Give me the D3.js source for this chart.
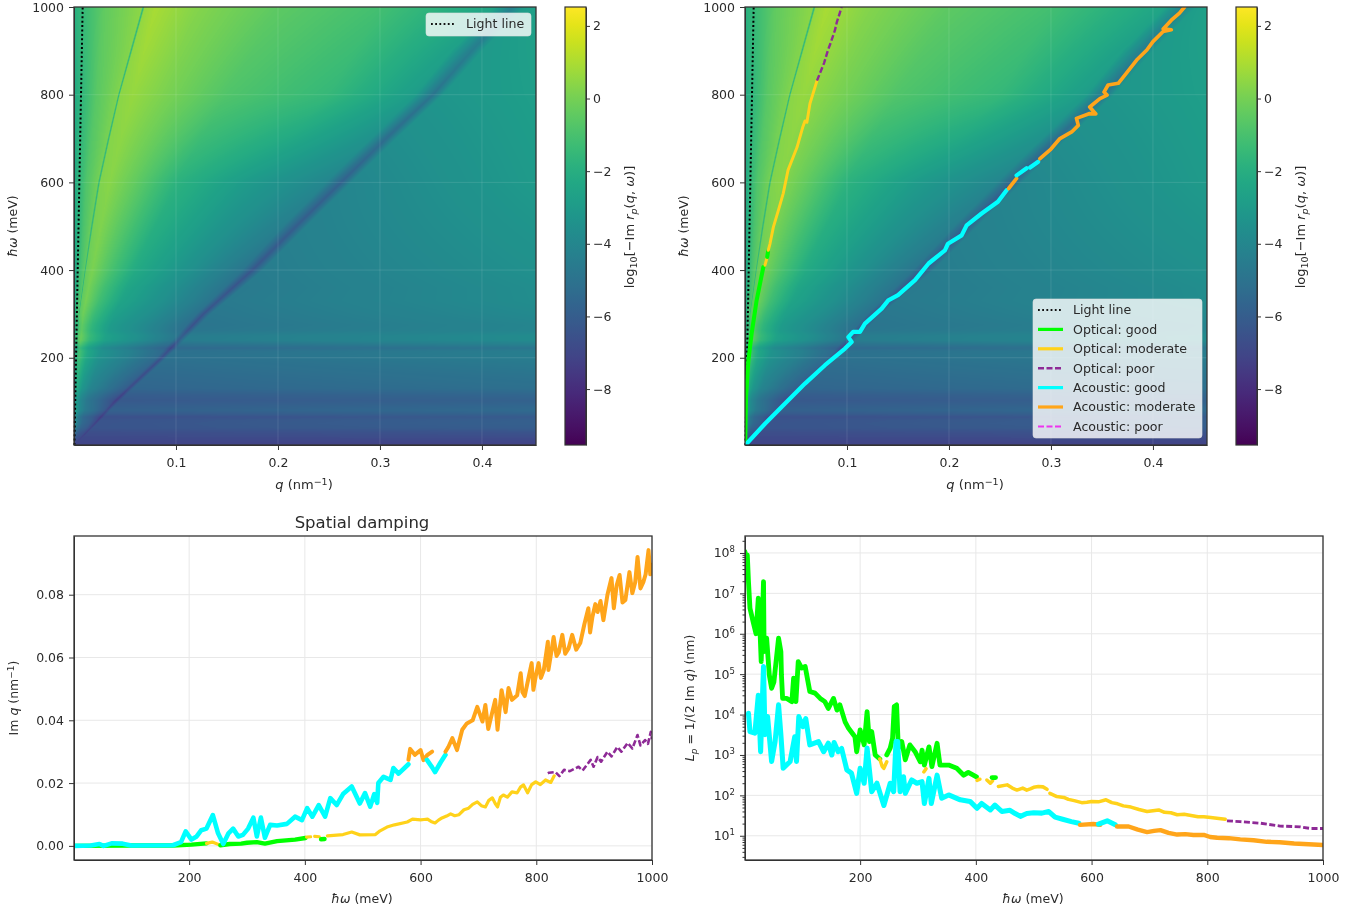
<!DOCTYPE html>
<html>
<head>
<meta charset="utf-8">
<script src="https://cdn.jsdelivr.net/npm/d3@7"></script>
<style>
  html, body { margin: 0; background: #fff; }
  svg { display: block; filter: blur(0.5px); }
  text { font-family: "DejaVu Sans", sans-serif; fill: #2a2a2a; }
</style>
</head>
<body>
<div id="chart"></div>
<script>
// Heatmap table: each row of heatQ / heatLog is one energy, knots follow the ridges from row to row
const heatOmega = [2, 50, 100, 200, 300, 400, 500, 600, 700, 800, 900, 1000];
const heatQ = [
  [0, .0001, .0002, .00025, .0003, .0004, .0005, .0006, .0007, .0008, .0009, .001, .0012, .453],
  [0, .0002, .0004, .0005, .0006, .001, .0015, .004, .008, .015, .0185, .0205, .023, .453],
  [0, .0003, .0006, .0008, .001, .0015, .0025, .006, .012, .025, .037, .04, .044, .453],
  [0, .0005, .001, .0015, .002, .003, .005, .012, .025, .05, .081, .086, .091, .453],
  [0, .001, .003, .0044, .005, .0056, .009, .02, .04, .08, .12, .127, .134, .453],
  [0, .002, .006, .0101, .011, .0119, .018, .035, .06, .11, .165, .175, .185, .453],
  [0, .0025, .009, .0162, .0175, .0188, .0265, .047, .08, .14, .205, .218, .228, .453],
  [0, .003, .012, .0232, .0245, .0258, .035, .06, .1, .17, .247, .262, .272, .453],
  [0, .0035, .017, .0327, .034, .0353, .046, .075, .125, .21, .291, .306, .316, .453],
  [0, .004, .022, .0428, .044, .0452, .058, .09, .15, .25, .335, .352, .362, .453],
  [0, .004, .026, .0546, .056, .0574, .069, .105, .175, .275, .37, .39, .4, .453],
  [0, .004, .03, .0665, .068, .0695, .08, .12, .2, .3, .412, .43, .442, .453]
];
const heatLog = [
  [-7.1, -7.1, -7.1, -7.1, -7.1, -7.1, -7.1, -7.1, -7.1, -7.1, -7.1, -7.1, -7.1, -7.2],
  [-5, -4.5, -4.2, -4.1, -4, -3.9, -3.9, -4.7, -5.5, -6, -6.6, -7.2, -6.4, -5.9],
  [-4, -3.5, -3.2, -3.1, -3, -2.9, -2.7, -3.6, -4.4, -5.3, -6.2, -7, -5.9, -5.5],
  [-3.6, -3, -2.5, -2.2, -2, -1.6, -1.2, -2.4, -3.5, -4.3, -5.4, -6.6, -5.1, -4.5],
  [-3, -2.2, -1.3, -.9, -1.5, -.6, -.2, -1.4, -2.8, -3.8, -5, -6.5, -4.8, -3.9],
  [-2.8, -2.2, -1.1, -.5, -1.5, -.3, .1, -.9, -2.2, -3.4, -4.8, -6.3, -4.5, -3.5],
  [-2.65, -2.05, -.95, -.25, -1.6, 0, .2, -.65, -2, -3.2, -4.4, -6, -4.25, -3.25],
  [-2.5, -1.9, -.8, -.05, -1.6, .2, .35, -.4, -1.8, -3, -4, -5.8, -4, -3],
  [-2.4, -1.9, -.7, .05, -1.6, .3, .45, -.15, -1.3, -2.25, -3.4, -5.3, -3.6, -2.9],
  [-2.3, -1.9, -.6, .2, -1.6, .4, .6, .1, -.8, -1.5, -2.9, -4.9, -3.2, -2.8],
  [-2.15, -1.8, -.5, .3, -1.6, .5, .8, .2, -.65, -1.3, -2.7, -4.5, -3.05, -2.75],
  [-2, -1.7, -.4, .45, -1.6, .6, .95, .3, -.5, -1.1, -2.5, -4.2, -2.9, -2.7]
];
// Horizontal stripes at low energy, read as an offset on the log scale
const stripeOmega = [1, 30, 40, 50, 58, 65, 72, 80, 90, 103, 115, 130, 160, 190, 205, 215, 222, 230, 240, 250, 262, 275, 300, 330, 360, 400];
const stripeOffset = [0, 0, .15, 0, -.1, -.35, 0, .25, 0, -.35, -.25, .05, 0, 0, .05, -.05, -.45, 0, .5, .45, .1, 0, .05, .1, 0, 0];

// Light line [q, omega]
const lightLine = [[.0004, 1], [.0085, 1000]];

// Dispersion, top right panel [q, omega]
const dispOpticalGood = [[.0002, 1], [.0006, 60], [.001, 110], [.0033, 194], [.0065, 255], [.0114, 331], [.018, 407]];
const dispOpticalGood2 = [[.0218, 430], [.0226, 443]];
const dispOpticalModerate = [[.0196, 411], [.0212, 425]];
const dispOpticalModerate2 = [[.0228, 445], [.0245, 460], [.0278, 498], [.0327, 536], [.0375, 575], [.0422, 628], [.051, 680], [.0565, 725], [.0588, 740], [.0607, 737], [.0637, 780], [.0706, 832]];
const dispOpticalPoor = [[.0706, 832], [.0735, 849], [.0775, 872], [.0814, 902], [.0835, 915], [.0882, 947], [.09, 965], [.0948, 1000]];
const dispAcousticGood = [[.0002, 1], [.0016, 4], [.0196, 49.5], [.039, 95], [.0588, 141], [.0784, 183], [.098, 221], [.1046, 236], [.1013, 247], [.106, 259], [.1127, 259], [.1176, 278], [.134, 312], [.1405, 331], [.15, 343], [.1667, 377], [.18, 415], [.196, 445], [.199, 460], [.2124, 479], [.2173, 502], [.232, 529], [.248, 556], [.2565, 582]];
const dispAcousticModerate = [[.2585, 586], [.2663, 609]];
const dispAcousticGood2 = [[.2663, 616], [.2761, 632]];
const dispAcousticGood3 = [[.2795, 634], [.2875, 647]];
const dispAcousticModerate2 = [[.2892, 654], [.3, 676], [.3088, 700], [.3203, 715], [.3268, 730], [.325, 746], [.338, 757], [.344, 756], [.338, 772], [.348, 791], [.355, 799], [.352, 806], [.356, 822], [.366, 826], [.374, 849], [.384, 879], [.394, 902], [.4, 921], [.41, 944], [.418, 948], [.41, 950], [.418, 970], [.426, 986], [.431, 1000]];

// Im q, bottom left panel [omega, Im q]
const imqOpticalGood = [[1, 0], [100, .0001], [172, .0001], [204, .0004], [230, .0008]];
const imqOpticalGood2 = [[254, .0002], [270, .0006], [290, .0007], [300, .001], [317, .0012], [331, .0007], [352, .0015], [383, .002], [401, .0025]];
const imqOpticalGood3 = [[428, .0021], [434, .0022]];
const imqOpticalModerate = [[230, .0008], [240, .0012], [254, .0002]];
const imqOpticalModerate2 = [[403, .0028], [410, .0029]];
const imqOpticalModerate3 = [[417, .003], [425, .0029]];
const imqOpticalModerate4 = [[439, .0032], [466, .0036], [481, .0044], [495, .0035], [522, .0036], [530, .0048], [542, .006], [555, .0067], [577, .0076], [586, .0085], [600, .0083], [606, .0084], [612, .0085], [618, .0078], [625, .0073], [631, .0082], [637, .0089], [645, .0095], [652, .0102], [659, .0096], [666, .0099], [675, .0115], [683, .012], [690, .0132], [698, .014], [705, .0128], [712, .0124], [718, .0145], [724, .0153], [729, .0135], [733, .0124], [738, .0155], [743, .0162], [750, .0155], [758, .0172], [767, .0169], [773, .0188], [778, .0194], [785, .0169], [792, .0195], [799, .0204], [807, .0195], [816, .021], [825, .0202], [831, .0223]];
const imqOpticalPoor = [[820, .0231], [822, .0233], [833, .0235], [840, .0222], [848, .0242], [858, .0238], [873, .0252], [880, .024], [894, .0274], [899, .0252], [906, .0283], [912, .0268], [923, .03], [930, .0285], [940, .0315], [947, .03], [958, .0328], [966, .031], [975, .0353], [980, .032], [988, .0337], [993, .0325], [998, .0363], [1000, .034]];
const imqAcousticGood = [[1, 0], [30, .0001], [45, .0006], [52, 0], [66, .0008], [85, .0007], [100, .0001], [172, .0002], [186, .0012], [194, .0046], [204, .002], [213, .003], [221, .005], [230, .0055], [241, .0098], [250, .004], [259, .0006], [268, .004], [276, .0055], [285, .003], [293, .0035], [302, .0055], [311, .009], [317, .003], [324, .009], [331, .0026], [340, .0067], [352, .0065], [369, .007], [383, .0093], [395, .0082], [404, .012], [413, .0093], [424, .013], [435, .0093], [444, .0152], [455, .013], [466, .0165], [481, .0189], [495, .0135], [504, .0168], [513, .0125], [520, .0165], [525, .0137], [527, .02], [536, .022], [548, .021], [553, .0248], [562, .023], [579, .026]];
const imqAcousticModerate = [[579, .0274], [582, .0309], [590, .029], [600, .0305], [605, .0273], [612, .029], [620, .03]];
const imqAcousticGood2 = [[611, .0274], [620, .025], [625, .0235], [634, .0264], [643, .029]];
const imqAcousticModerate2 = [[643, .03], [648, .0315], [655, .0343], [663, .0305], [672, .037], [680, .039], [690, .04], [698, .0443], [707, .0396], [712, .0449], [717, .0372], [729, .0465], [733, .037], [740, .0496], [747, .0426], [752, .0503], [758, .0465], [767, .048], [773, .055], [776, .049], [780, .0477], [786, .053], [792, .0582], [795, .0497], [799, .054], [804, .0582], [808, .0535], [813, .056], [820, .065], [821, .056], [830, .0665], [835, .0605], [839, .0617], [845, .0672], [850, .0612], [856, .063], [862, .0672], [869, .0625], [876, .0646], [883, .0705], [890, .0757], [893, .068], [897, .0729], [902, .077], [906, .0745], [911, .078], [916, .0719], [923, .08], [930, .0853], [934, .0757], [939, .083], [944, .0863], [949, .0775], [954, .0783], [961, .0872], [966, .0805], [971, .084], [975, .092], [980, .082], [985, .084], [989, .0865], [994, .0942], [997, .0865], [1000, .0895]];

// Propagation length, bottom right panel [omega, log10 Lp]
const lpOpticalGood = [[1, 8.03], [1.5, 7.37], [5, 7.95], [7, 7.29], [9.6, 6.63], [15, 6.3], [20, 6], [24, 6.88], [27, 6.05], [29, 5.31], [33, 7.29], [34, 5.56], [38.4, 5.89], [43, 4.98], [47, 4.65], [51, 4.81], [59, 5.89], [63, 5.56], [64, 4.98], [66, 4.4], [73, 4.4], [82, 4.32], [85, 4.9], [89, 4.32], [93, 5.31], [99, 5.15], [105, 5.19], [113, 4.57], [122, 4.53], [131, 4.4], [139, 4.32], [145, 4.15], [154, 4.4], [160, 4.11], [165, 4.24], [174, 3.82], [180, 3.66], [191, 3.45], [194, 3.08], [200, 3.62], [207, 3.25], [212, 4.07], [216, 3.33], [220, 3.58], [226, 3], [234, 2.9]];
const lpOpticalGood2 = [[246, 3], [252, 3.17], [256, 3.41], [259, 4.2], [263, 4.24], [266, 3.17], [272, 3.33], [278, 2.88], [286, 3.25], [295, 3.08], [304, 2.83], [307, 3.12], [311, 2.75], [319, 3.2], [324, 2.71], [333, 3.29], [338, 2.75], [353, 2.75], [367, 2.67], [379, 2.5], [387, 2.57], [401, 2.46]];
const lpOpticalGood3 = [[428, 2.44], [434, 2.44]];
const lpOpticalModerate = [[234, 2.9], [238, 2.72], [241, 2.67], [246, 2.83]];
const lpOpticalModerate2 = [[310, 2.58], [314, 2.66]];
const lpOpticalModerate3 = [[402, 2.37], [407, 2.4]];
const lpOpticalModerate4 = [[419, 2.38], [425, 2.3], [429, 2.36]];
const lpOpticalModerate5 = [[439, 2.22], [454, 2.26], [463, 2.18], [471, 2.13], [481, 2.18], [488, 2.13], [494, 2.16], [500, 2.2], [508, 2.22], [516, 2.21], [523, 2.15]];
const lpOpticalModerate6 = [[528, 2.05], [540, 1.97], [552, 1.95], [560, 1.9], [570, 1.87], [583, 1.82], [592, 1.83], [600, 1.85], [612, 1.84], [625, 1.89], [635, 1.82], [645, 1.79], [655, 1.74], [668, 1.71], [682, 1.65], [696, 1.6], [706, 1.62], [716, 1.64], [726, 1.58], [737, 1.57], [748, 1.52], [760, 1.53], [772, 1.5], [784, 1.47], [794, 1.47], [806, 1.45], [820, 1.43], [831, 1.41]];
const lpOpticalPoor = [[834, 1.37], [857, 1.35], [892, 1.31], [926, 1.24], [961, 1.22], [978, 1.18], [1000, 1.18]];
const lpAcousticGood = [[7, 4.03], [9.6, 3.58], [18, 3.54], [24, 4.48], [28, 3.08], [33, 5.19], [35.5, 3.5], [40, 3.95], [47, 2.84], [53, 3.33], [59, 4.24], [63, 3.5], [67, 2.67], [79, 2.84], [87, 3.45], [90, 2.84], [94, 3.95], [101, 3.7], [106, 3.9], [113, 3.25], [128, 3.33], [137, 3.08], [145, 3.29], [151, 3], [155, 3.31], [162, 3.08], [168, 3.16], [177, 2.63], [185, 2.55], [194, 2.05], [200, 2.67], [207, 2.3], [212, 3.17], [220, 2.09], [229, 2.3], [241, 1.75], [252, 2.3], [258, 2.09], [262, 3.33], [265, 3.33], [269, 2.09], [275, 2.46], [278, 2.05], [289, 2.38], [298, 2.3], [307, 2.34], [311, 1.8], [319, 2.42], [323, 1.8], [333, 2.5], [341, 1.93], [353, 2.01], [373, 1.89], [390, 1.85], [402, 1.68], [410, 1.8], [425, 1.64], [433, 1.76], [445, 1.6], [459, 1.63], [468, 1.55], [477, 1.48], [488, 1.55], [500, 1.57], [514, 1.56], [526, 1.6], [537, 1.46], [550, 1.41], [565, 1.35], [578, 1.31]];
const lpAcousticModerate = [[580, 1.27], [603, 1.29], [615, 1.27]];
const lpAcousticGood2 = [[612, 1.29], [627, 1.37], [641, 1.27]];
const lpAcousticModerate2 = [[644, 1.23], [664, 1.23], [680, 1.15], [696, 1.09], [708, 1.12], [719, 1.14], [733, 1.07], [748, 1.03], [762, 1.04], [776, 1.02], [794, 1.02], [805, .97], [817, .95], [837, .94], [857, .91], [880, .89], [903, .85], [925, .84], [950, .81], [975, .79], [1000, .77]];

// Axis ticks
const qTicks = [.1, .2, .3, .4];
const omegaTicks = [200, 400, 600, 800];
const colorTicks = [2, 0, -2, -4, -6, -8];
const omegaTicksBottom = [200, 400, 600, 800, 1000];
const imqTicks = [0, .02, .04, .06, .08];
const lpTicks = [1, 2, 3, 4, 5, 6, 7, 8];

const lineStyles = {
  opticalGood: { color: "#00ff00", width: 4.4 },
  opticalModerate: { color: "#ffd21a", width: 3.2 },
  opticalPoor: { color: "#8e2a96", width: 2.6, dash: "6,2.5" },
  acousticGood: { color: "#00ffff", width: 4.6 },
  acousticModerate: { color: "#ffa51a", width: 4 },
  acousticPoor: { color: "#ee33ee", width: 2, dash: "6,2.5" }
};

let HEIGHT = 912, WIDTH = 1372;
const svg = d3.select("#chart").append("svg").attr("width", WIDTH).attr("height", HEIGHT);

const colorScale = d3.scaleSequential(d3.interpolateViridis).domain([-9.54, 2.52]);
const stripeScale = d3.scaleLinear().domain(stripeOmega).range(stripeOffset).clamp(true);
const minus = s => String(s).replace("-", "\u2212");

// Interpolate the table: first along the energy rows, knot by knot, then along q
function heatValue(q, w) {
  let i = d3.bisectRight(heatOmega, w) - 1;
  i = Math.max(0, Math.min(heatOmega.length - 2, i));
  const t = (w - heatOmega[i]) / (heatOmega[i + 1] - heatOmega[i]);
  const qs = heatQ[i].map((d, k) => d + (heatQ[i + 1][k] - d) * t);
  const vs = heatLog[i].map((d, k) => d + (heatLog[i + 1][k] - d) * t);
  return d3.scaleLinear().domain(qs).range(vs).clamp(true)(q) + stripeScale(w);
}

function heatPanel(left, right, top, bottom) {
  const x = d3.scaleLinear().domain([0, .453]).range([left, right]);
  const y = d3.scaleLinear().domain([1, 1000]).range([bottom, top]);

  // Paint the heatmap on an offscreen canvas, one cell per screen pixel
  const w = right - left, h = bottom - top;
  const canvas = document.createElement("canvas");
  canvas.width = w; canvas.height = h;
  const ctx = canvas.getContext("2d");
  for (let py = 0; py < h; py++) {
    const om = y.invert(top + py + .5);
    for (let px = 0; px < w; px++) {
      ctx.fillStyle = colorScale(heatValue(x.invert(left + px + .5), om));
      ctx.fillRect(px, py, 1, 1);
    }
  }
  svg.append("image").attr("x", left).attr("y", top).attr("width", w).attr("height", h)
    .attr("href", canvas.toDataURL());

  const grid = svg.append("g").attr("stroke", "#fff").attr("stroke-opacity", .11);
  grid.selectAll(".v").data(qTicks).enter().append("line")
    .attr("x1", d => x(d)).attr("x2", d => x(d)).attr("y1", top).attr("y2", bottom);
  grid.selectAll(".h").data(omegaTicks).enter().append("line")
    .attr("x1", left).attr("x2", right).attr("y1", d => y(d)).attr("y2", d => y(d));

  svg.append("g").attr("transform", `translate(0,${bottom})`)
    .call(d3.axisBottom(x).tickValues(qTicks).tickSize(5).tickSizeOuter(0).tickPadding(8).tickFormat(d3.format(".1f")));
  svg.append("g").attr("transform", `translate(${left},0)`)
    .call(d3.axisLeft(y).tickValues(omegaTicks.concat(1000)).tickSize(5).tickSizeOuter(0).tickPadding(5).tickFormat(d3.format("d")));

  return { x, y, left, right, top, bottom };
}

function frame(p) {
  svg.append("rect").attr("x", p.left).attr("y", p.top).attr("width", p.right - p.left).attr("height", p.bottom - p.top)
    .attr("fill", "none").attr("stroke", "#333").attr("stroke-width", 1.3);
}

let gradientCount = 0;
function colorbar(left, right, top, bottom) {
  const y = d3.scaleLinear().domain(colorScale.domain()).range([bottom, top]);
  const id = "cbar" + (gradientCount++);
  const grad = svg.append("linearGradient").attr("id", id).attr("x1", 0).attr("x2", 0).attr("y1", 1).attr("y2", 0);
  grad.selectAll("stop").data(d3.range(0, 1.001, .04)).enter().append("stop")
    .attr("offset", d => d).attr("stop-color", d => d3.interpolateViridis(d));
  svg.append("rect").attr("x", left).attr("y", top).attr("width", right - left).attr("height", bottom - top)
    .attr("fill", `url(#${id})`).attr("stroke", "#333").attr("stroke-width", 1.2);
  svg.append("g").attr("transform", `translate(${right},0)`)
    .call(d3.axisRight(y).tickValues(colorTicks).tickSize(4).tickSizeOuter(0).tickFormat(minus));
  const label = svg.append("text").attr("transform", `translate(${right + 48},${(top + bottom) / 2 + 1}) rotate(-90)`)
    .attr("text-anchor", "middle").style("font-size", "13px");
  label.append("tspan").text("log");
  label.append("tspan").attr("dy", 3).style("font-size", "9.5px").text("10");
  label.append("tspan").attr("dy", -3).text("[\u2212Im ");
  label.append("tspan").style("font-style", "italic").text("r");
  label.append("tspan").attr("dy", 3).style("font-size", "9.5px").style("font-style", "italic").text("p");
  label.append("tspan").attr("dy", -3).text("(");
  label.append("tspan").style("font-style", "italic").text("q");
  label.append("tspan").text(", ");
  label.append("tspan").style("font-style", "italic").text("\u03c9");
  label.append("tspan").text(")]");
}

function omegaLabel(el) {
  el.attr("text-anchor", "middle").style("font-size", "12.5px");
  el.append("tspan").style("font-style", "italic").text("\u0127\u03c9");
  el.append("tspan").text(" (meV)");
}

function qLabel(x, y) {
  const el = svg.append("text").attr("x", x).attr("y", y).attr("text-anchor", "middle").style("font-size", "13px");
  el.append("tspan").style("font-style", "italic").text("q");
  el.append("tspan").text(" (nm");
  el.append("tspan").attr("dy", -4).style("font-size", "9.5px").text("\u22121");
  el.append("tspan").attr("dy", 4).text(")");
}

// Quality segments, drawn through the panel scales and clipped to the panel
function drawSegments(p, clipId, segs, widthScale) {
  svg.append("clipPath").attr("id", clipId).append("rect")
    .attr("x", p.left).attr("y", p.top).attr("width", p.right - p.left).attr("height", p.bottom - p.top);
  const g = svg.append("g").attr("clip-path", `url(#${clipId})`);
  const line = d3.line().x(d => p.x(d[0])).y(d => p.y(d[1]));
  segs.forEach(([pts, style]) => {
    const s = lineStyles[style];
    g.append("path").datum(pts).attr("d", line).attr("fill", "none")
      .attr("stroke", s.color).attr("stroke-width", s.width * widthScale)
      .attr("stroke-dasharray", s.dash || null)
      .attr("stroke-linejoin", "round").attr("stroke-linecap", s.dash ? "butt" : "round");
  });
  return g;
}

function lightDotted(p) {
  svg.append("path").datum(lightLine)
    .attr("d", d3.line().x(d => p.x(d[0])).y(d => p.y(d[1])))
    .attr("fill", "none").attr("stroke", "#000").attr("stroke-width", 2).attr("stroke-dasharray", "2,2.4");
}

function legend(x, y, w, h, rows, rowStep) {
  const g = svg.append("g");
  g.append("rect").attr("x", x).attr("y", y).attr("width", w).attr("height", h).attr("rx", 3)
    .attr("fill", "#fff").attr("fill-opacity", .8).attr("stroke", "#ddd").attr("stroke-opacity", .6);
  rows.forEach(([name, style], i) => {
    const cy = y + 11 + i * rowStep;
    const s = style ? lineStyles[style] : { color: "#111", width: 1.8, dash: "1.8,2.4" };
    g.append("line").attr("x1", x + 5).attr("x2", x + 30).attr("y1", cy).attr("y2", cy)
      .attr("stroke", s.color).attr("stroke-width", Math.min(s.width, 3.2)).attr("stroke-dasharray", s.dash || null);
    g.append("text").attr("x", x + 40).attr("y", cy + 4.3).style("font-size", "12.6px").text(name);
  });
}

// Top left panel
const tl = heatPanel(74, 536, 7, 445);
lightDotted(tl);
frame(tl);
colorbar(565, 586, 7, 445);
qLabel(304, 489);
omegaLabel(svg.append("text").attr("transform", "translate(17,226) rotate(-90)"));
legend(426, 13, 105, 23, [["Light line", null]], 19.4);

// Top right panel
const tr = heatPanel(745, 1207, 7, 445);
lightDotted(tr);
drawSegments(tr, "clipTr", [
  [dispOpticalGood, "opticalGood"], [dispOpticalModerate, "opticalModerate"], [dispOpticalGood2, "opticalGood"],
  [dispOpticalModerate2, "opticalModerate"], [dispOpticalPoor, "opticalPoor"],
  [dispAcousticGood, "acousticGood"], [dispAcousticModerate, "acousticModerate"], [dispAcousticGood2, "acousticGood"],
  [dispAcousticGood3, "acousticGood"], [dispAcousticModerate2, "acousticModerate"]
], .92);
frame(tr);
colorbar(1236, 1257, 7, 445);
qLabel(975, 489);
omegaLabel(svg.append("text").attr("transform", "translate(688,226) rotate(-90)"));
legend(1033, 299, 169, 139, [
  ["Light line", null], ["Optical: good", "opticalGood"], ["Optical: moderate", "opticalModerate"],
  ["Optical: poor", "opticalPoor"], ["Acoustic: good", "acousticGood"],
  ["Acoustic: moderate", "acousticModerate"], ["Acoustic: poor", "acousticPoor"]
], 19.4);

// Bottom panels share the energy axis
function lowerGrid(p, xVals, yVals) {
  const g = svg.append("g").attr("stroke", "#e8e8e8").attr("stroke-width", 1);
  g.selectAll(".v").data(xVals).enter().append("line")
    .attr("x1", d => p.x(d)).attr("x2", d => p.x(d)).attr("y1", p.top).attr("y2", p.bottom);
  g.selectAll(".h").data(yVals).enter().append("line")
    .attr("x1", p.left).attr("x2", p.right).attr("y1", d => p.y(d)).attr("y2", d => p.y(d));
}

// Bottom left panel: spatial damping
const bl = {
  x: d3.scaleLinear().domain([1, 1000]).range([74, 652]),
  y: d3.scaleLinear().domain([-.0045, .0987]).range([860, 536]),
  left: 74, right: 652, top: 536, bottom: 860
};
lowerGrid(bl, omegaTicksBottom, imqTicks);
drawSegments(bl, "clipBl", [
  [imqOpticalGood, "opticalGood"], [imqOpticalModerate, "opticalModerate"], [imqOpticalGood2, "opticalGood"],
  [imqOpticalModerate2, "opticalModerate"], [imqOpticalModerate3, "opticalModerate"], [imqOpticalGood3, "opticalGood"],
  [imqOpticalModerate4, "opticalModerate"], [imqOpticalPoor, "opticalPoor"],
  [imqAcousticGood, "acousticGood"], [imqAcousticModerate, "acousticModerate"], [imqAcousticGood2, "acousticGood"],
  [imqAcousticModerate2, "acousticModerate"]
], 1);
svg.append("g").attr("transform", "translate(0,860)")
  .call(d3.axisBottom(bl.x).tickValues(omegaTicksBottom).tickSize(5).tickSizeOuter(0).tickPadding(8).tickFormat(d3.format("d")));
svg.append("g").attr("transform", "translate(74,0)")
  .call(d3.axisLeft(bl.y).tickValues(imqTicks).tickSize(5).tickSizeOuter(0).tickPadding(5).tickFormat(d3.format(".2f")));
frame(bl);
svg.append("text").attr("x", 362).attr("y", 528).attr("text-anchor", "middle").style("font-size", "16.5px").text("Spatial damping");
omegaLabel(svg.append("text").attr("x", 362).attr("y", 903));
const imqLabel = svg.append("text").attr("transform", "translate(18,698) rotate(-90)")
  .attr("text-anchor", "middle").style("font-size", "12.5px");
imqLabel.append("tspan").text("Im ");
imqLabel.append("tspan").style("font-style", "italic").text("q");
imqLabel.append("tspan").text(" (nm");
imqLabel.append("tspan").attr("dy", -4).style("font-size", "9px").text("\u22121");
imqLabel.append("tspan").attr("dy", 4).text(")");

// Bottom right panel: propagation length, log10 values on a log axis
const br = {
  x: d3.scaleLinear().domain([1, 1000]).range([745, 1323]),
  y: d3.scaleLinear().domain([.4, 8.42]).range([860, 536]),
  left: 745, right: 1323, top: 536, bottom: 860
};
lowerGrid(br, omegaTicksBottom, lpTicks);
drawSegments(br, "clipBr", [
  [lpOpticalGood, "opticalGood"], [lpOpticalModerate, "opticalModerate"], [lpOpticalGood2, "opticalGood"],
  [lpOpticalModerate2, "opticalModerate"], [lpOpticalModerate3, "opticalModerate"], [lpOpticalModerate4, "opticalModerate"],
  [lpOpticalGood3, "opticalGood"], [lpOpticalModerate5, "opticalModerate"], [lpOpticalModerate6, "opticalModerate"],
  [lpOpticalPoor, "opticalPoor"],
  [lpAcousticGood, "acousticGood"], [lpAcousticModerate, "acousticModerate"], [lpAcousticGood2, "acousticGood"],
  [lpAcousticModerate2, "acousticModerate"]
], 1.1);
svg.append("g").attr("transform", "translate(0,860)")
  .call(d3.axisBottom(br.x).tickValues(omegaTicksBottom).tickSize(5).tickSizeOuter(0).tickPadding(8).tickFormat(d3.format("d")));
const lpAxis = svg.append("g").attr("transform", "translate(745,0)")
  .call(d3.axisLeft(br.y).tickValues(lpTicks).tickSize(5).tickSizeOuter(0).tickPadding(5));
lpAxis.selectAll("text").each(function(d) {
  const t = d3.select(this).text(null);
  t.append("tspan").text("10");
  t.append("tspan").attr("dy", -5).style("font-size", "8.5px").text(d);
});
// Minor log ticks
const minorLp = lpTicks.concat(0).flatMap(d => d3.range(2, 10).map(m => d + Math.log10(m))).filter(d => d > .4 && d < 8.42);
svg.append("g").attr("transform", "translate(745,0)")
  .call(d3.axisLeft(br.y).tickValues(minorLp).tickSize(2.5).tickSizeOuter(0).tickFormat(""))
  .select(".domain").remove();
frame(br);
omegaLabel(svg.append("text").attr("x", 1033).attr("y", 903));
const lpLabel = svg.append("text").attr("transform", "translate(694,698) rotate(-90)")
  .attr("text-anchor", "middle").style("font-size", "12.5px");
lpLabel.append("tspan").style("font-style", "italic").text("L");
lpLabel.append("tspan").attr("dy", 3).style("font-size", "9px").style("font-style", "italic").text("p");
lpLabel.append("tspan").attr("dy", -3).text(" = 1/(2 Im ");
lpLabel.append("tspan").style("font-style", "italic").text("q");
lpLabel.append("tspan").text(") (nm)");

// Axis text
svg.selectAll(".tick text").style("font-size", "12.5px").style("font-family", '"DejaVu Sans", sans-serif').attr("fill", null);
svg.selectAll(".tick line").attr("stroke", "#333");
svg.selectAll(".domain").attr("stroke", "#333");
</script>
</body>
</html>
